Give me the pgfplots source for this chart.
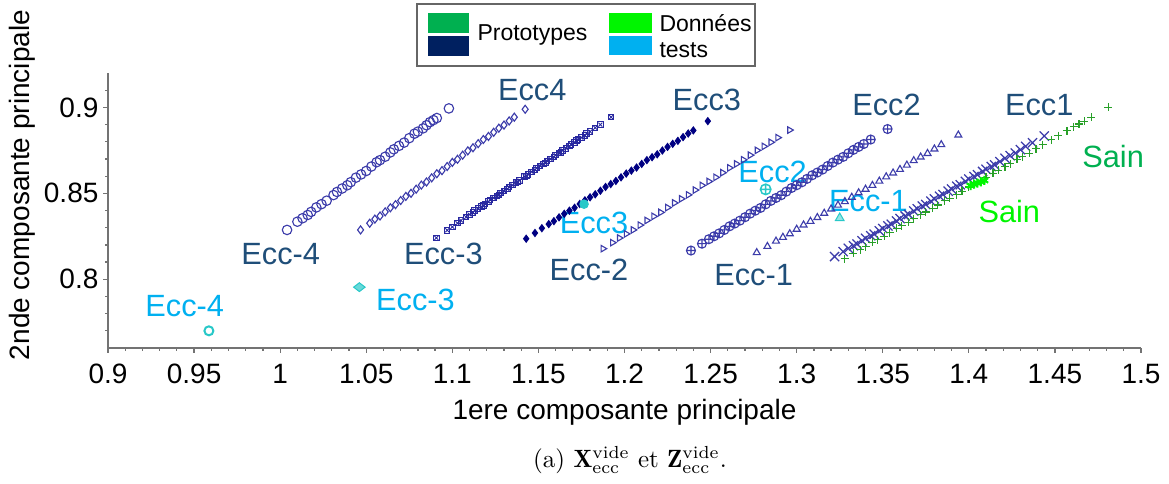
\documentclass[border=0pt]{standalone}
\usepackage{pgfplots}
\pgfplotsset{compat=1.18}
\usepackage{pgfplotstable}
\usepackage{fontspec}
\setsansfont{Liberation Sans}
\renewcommand{\familydefault}{\sfdefault}
\definecolor{darklab}{RGB}{31,78,121}
\definecolor{cyanlab}{RGB}{0,176,240}
\definecolor{greenlab}{RGB}{0,176,80}
\definecolor{limelab}{RGB}{0,245,0}
\definecolor{navyleg}{RGB}{0,32,96}
\definecolor{ser}{RGB}{60,60,170}
\definecolor{navy}{RGB}{0,0,130}
\definecolor{dser}{RGB}{40,40,160}
\definecolor{plusgreen}{RGB}{40,160,40}
\definecolor{testcyan}{RGB}{40,200,200}

\pgfplotstableread{
x y
1.0907 0.8241
1.097 0.8285
1.100 0.8305
1.103 0.8326
1.105 0.8342
1.108 0.8361
1.110 0.8377
1.112 0.8388
1.115 0.8411
1.117 0.8423
1.119 0.8439
1.121 0.8451
1.124 0.8473
1.126 0.8485
1.128 0.8501
1.130 0.8513
1.133 0.8536
1.135 0.8547
1.137 0.8563
1.139 0.8575
1.142 0.8598
1.144 0.8610
1.146 0.8625
1.148 0.8637
1.151 0.8660
1.153 0.8672
1.155 0.8688
1.157 0.8700
1.160 0.8722
1.162 0.8734
1.164 0.8750
1.166 0.8762
1.169 0.8785
1.171 0.8796
1.173 0.8812
1.175 0.8824
1.178 0.8847
1.180 0.8859
1.183 0.8881
1.186 0.8900
1.1922 0.8943
1.113 0.8400
1.118 0.8428
1.122 0.8462
1.127 0.8490
1.132 0.8525
1.138 0.8566
1.143 0.8602
1.149 0.8647
1.154 0.8676
1.159 0.8712
1.163 0.8738
1.168 0.8774
1.172 0.8806
1.177 0.8836
}\tabcross

\begin{document}
\begin{tikzpicture}
\useasboundingbox (-43.2pt,-54pt) rectangle (424.4pt,139.2pt);
\begin{axis}[name=ax, at={(0,0)}, anchor=south west,
  scale only axis, width=413.2pt, height=110pt,
  xmin=0.9, xmax=1.5, ymin=0.76, ymax=0.92,
  axis x line*=bottom, axis y line*=left,
  axis line style={-, black!55, line width=0.6pt},
  xtick={0.9,0.95,1,1.05,1.1,1.15,1.2,1.25,1.3,1.35,1.4,1.45,1.5},
  xticklabels={0.9,0.95,1,1.05,1.1,1.15,1.2,1.25,1.3,1.35,1.4,1.45,1.5},
  ytick={0.8,0.85,0.9},
  yticklabels={0.8,0.85,0.9},
  minor x tick num=4,
  minor ytick={0.77,0.78,0.79,0.81,0.82,0.83,0.84,0.86,0.87,0.88,0.89,0.91},
  tick align=outside,
  major tick length=1.8pt, minor tick length=1pt,
  tick style={black!55, line width=0.5pt},
  /pgf/number format/assume math mode=true,
  ticklabel style={font=\fontsize{11.2}{13}\selectfont},
  xticklabel style={yshift=-1pt},
  yticklabel style={xshift=1.5pt},
  xlabel={1ere composante principale},
  ylabel={2nde composante principale},
  label style={font=\fontsize{11.2}{13}\selectfont},
  xlabel style={at={(axis description cs:0.5,0)}, anchor=center, yshift=-25.6pt},
  ylabel style={at={(axis description cs:-0.0833,0.593)}, anchor=center},
  clip=false,
]
% Ecc4 circles
\addplot[only marks, mark=o, mark size=1.9pt, mark options={ser, line width=0.45pt}] table {
x y
1.004 0.8287
1.010 0.8335
1.013 0.8355
1.016 0.8374
1.018 0.8392
1.021 0.8418
1.024 0.8437
1.027 0.8457
1.031 0.8490
1.033 0.8508
1.036 0.8528
1.039 0.8547
1.041 0.8565
1.044 0.8591
1.047 0.8610
1.050 0.8630
1.053 0.8656
1.056 0.8681
1.058 0.8693
1.061 0.8713
1.064 0.8738
1.066 0.8756
1.069 0.8776
1.072 0.8795
1.075 0.8821
1.078 0.8847
1.080 0.8859
1.083 0.8878
1.085 0.8896
1.087 0.8914
1.089 0.8926
1.091 0.8938
1.098 0.8994
};
% Ecc3 open diamonds
\addplot[only marks, mark=diamond, mark size=1.6pt, mark options={ser, line width=0.45pt}] table {
x y
1.0467 0.8287
1.052 0.8326
1.055 0.8350
1.058 0.8368
1.061 0.8392
1.064 0.8416
1.067 0.8434
1.070 0.8458
1.073 0.8482
1.076 0.8500
1.079 0.8524
1.082 0.8548
1.085 0.8566
1.088 0.8590
1.091 0.8614
1.094 0.8632
1.097 0.8656
1.100 0.8680
1.103 0.8698
1.106 0.8722
1.109 0.8747
1.112 0.8765
1.115 0.8789
1.118 0.8813
1.121 0.8831
1.124 0.8855
1.127 0.8879
1.130 0.8897
1.133 0.8921
1.136 0.8943
1.1423 0.8989
};
% Ecc2 crossed squares
\addplot[only marks, mark=square, mark size=1.1pt, mark options={dser, line width=0.4pt}] table {\tabcross};
\addplot[only marks, mark=x, mark size=1.1pt, mark options={dser, line width=0.35pt}] table {\tabcross};
% Ecc1 filled diamonds
\addplot[only marks, mark=diamond*, mark size=1.4pt, mark options={navy, fill=navy}] table {
x y
1.1429 0.8236
1.148 0.8269
1.152 0.8297
1.156 0.8321
1.159 0.8338
1.162 0.8360
1.165 0.8381
1.168 0.8399
1.171 0.8416
1.174 0.8438
1.177 0.8459
1.180 0.8477
1.183 0.8494
1.186 0.8515
1.189 0.8537
1.192 0.8554
1.195 0.8572
1.198 0.8593
1.201 0.8615
1.204 0.8632
1.207 0.8650
1.210 0.8671
1.213 0.8693
1.216 0.8710
1.219 0.8727
1.222 0.8749
1.225 0.8770
1.228 0.8788
1.231 0.8805
1.234 0.8827
1.237 0.8848
1.240 0.8866
1.2484 0.8920
};
% Ecc-1 triangles right
\addplot[only marks, mark=triangle, mark size=1.5pt, mark options={ser, line width=0.45pt, rotate=-90}] table {
x y
1.1875 0.8178
1.193 0.8213
1.197 0.8240
1.201 0.8264
1.205 0.8287
1.209 0.8315
1.213 0.8342
1.217 0.8366
1.221 0.8389
1.225 0.8417
1.229 0.8444
1.233 0.8468
1.237 0.8491
1.241 0.8519
1.245 0.8546
1.249 0.8569
1.253 0.8593
1.257 0.8620
1.261 0.8648
1.265 0.8671
1.269 0.8695
1.273 0.8722
1.277 0.8750
1.281 0.8773
1.285 0.8797
1.289 0.8824
1.2959 0.8868
};
% Ecc-2 oplus
\addplot[only marks, mark=oplus, mark size=1.8pt, mark options={ser, line width=0.45pt}] table {
x y
1.2386 0.8167
1.245 0.8207
1.249 0.8233
1.252 0.8250
1.255 0.8267
1.258 0.8287
1.261 0.8308
1.264 0.8324
1.267 0.8341
1.270 0.8361
1.273 0.8382
1.276 0.8399
1.279 0.8415
1.282 0.8436
1.285 0.8456
1.288 0.8473
1.291 0.8489
1.294 0.8510
1.297 0.8531
1.300 0.8547
1.303 0.8564
1.306 0.8584
1.309 0.8605
1.312 0.8621
1.315 0.8638
1.318 0.8659
1.321 0.8679
1.324 0.8696
1.327 0.8712
1.330 0.8733
1.333 0.8753
1.336 0.8770
1.339 0.8787
1.343 0.8813
1.3528 0.8874
};
% Ecc-3 triangles up
\addplot[only marks, mark=triangle, mark size=1.6pt, mark options={ser, line width=0.45pt}] table {
x y
1.2768 0.8155
1.283 0.8191
1.288 0.8222
1.292 0.8244
1.296 0.8265
1.300 0.8291
1.304 0.8316
1.308 0.8337
1.312 0.8359
1.316 0.8384
1.320 0.8409
1.324 0.8431
1.328 0.8452
1.332 0.8477
1.336 0.8503
1.340 0.8524
1.344 0.8546
1.348 0.8571
1.352 0.8596
1.356 0.8618
1.360 0.8639
1.364 0.8664
1.368 0.8690
1.372 0.8711
1.376 0.8732
1.380 0.8758
1.384 0.8783
1.3939 0.8839
};
% Ecc-4 x marks
\addplot[only marks, mark=x, mark size=2.6pt, mark options={ser, line width=0.5pt}] table {
x y
1.322 0.8132
1.327 0.8161
1.330 0.8180
1.333 0.8195
1.335 0.8205
1.338 0.8224
1.340 0.8238
1.343 0.8253
1.345 0.8262
1.348 0.8282
1.350 0.8295
1.353 0.8310
1.355 0.8320
1.358 0.8339
1.360 0.8353
1.363 0.8368
1.365 0.8377
1.368 0.8397
1.370 0.8410
1.373 0.8426
1.375 0.8435
1.378 0.8454
1.380 0.8468
1.383 0.8483
1.385 0.8493
1.388 0.8512
1.390 0.8525
1.393 0.8541
1.395 0.8550
1.398 0.8569
1.400 0.8583
1.403 0.8598
1.405 0.8608
1.408 0.8627
1.410 0.8640
1.413 0.8656
1.415 0.8665
1.418 0.8684
1.421 0.8704
1.424 0.8719
1.427 0.8734
1.430 0.8754
1.433 0.8773
1.437 0.8794
1.4438 0.8833
};
% Sain plus
\addplot[only marks, mark=+, mark size=1.6pt, mark options={plusgreen, line width=0.45pt}] table {
x y
1.3278 0.8120
1.333 0.8150
1.337 0.8171
1.340 0.8190
1.344 0.8215
1.347 0.8230
1.351 0.8251
1.354 0.8271
1.358 0.8296
1.361 0.8311
1.365 0.8332
1.368 0.8351
1.372 0.8376
1.375 0.8391
1.379 0.8412
1.382 0.8432
1.386 0.8457
1.389 0.8472
1.393 0.8493
1.396 0.8512
1.400 0.8537
1.403 0.8552
1.407 0.8573
1.410 0.8593
1.414 0.8617
1.417 0.8633
1.421 0.8654
1.424 0.8673
1.428 0.8698
1.431 0.8713
1.435 0.8734
1.439 0.8759
1.443 0.8784
1.448 0.8811
1.452 0.8836
1.457 0.8863
1.461 0.8888
1.464 0.8903
1.467 0.8918
1.471 0.8943
1.4809 0.9000
};
% test points
\addplot[only marks, mark=o, mark size=1.8pt, mark options={testcyan, line width=0.8pt}] coordinates {(0.9586,0.7700)};
\addplot[only marks, mark=diamond*, mark size=2.2pt, mark options={testcyan, fill=testcyan!70, xscale=1.4, yscale=0.8}] coordinates {(1.046,0.7954)};
\addplot[only marks, mark=*, mark size=1.7pt, mark options={testcyan, fill=testcyan}] coordinates {(1.1765,0.8437)};
\addplot[only marks, mark=oplus, mark size=2.1pt, mark options={testcyan, line width=0.6pt, fill=testcyan!40}] coordinates {(1.282,0.8523)};
\addplot[only marks, mark=triangle*, mark size=2pt, mark options={testcyan, fill=testcyan!50}] coordinates {(1.325,0.8356)};
\addplot[only marks, mark=asterisk, mark size=1.8pt, mark options={limelab, line width=0.8pt}] coordinates {(1.401,0.8545) (1.403,0.8553) (1.405,0.8560) (1.407,0.8567) (1.409,0.8575)};
% labels
\begin{scope}[every node/.style={font=\fontsize{12.3}{14}\selectfont, inner sep=0pt}]
\node[text=darklab] at (axis cs:1.1464,0.9103) {Ecc4};
\node[text=darklab] at (axis cs:1.2478,0.9046) {Ecc3};
\node[text=darklab] at (axis cs:1.3522,0.9017) {Ecc2};
\node[text=darklab] at (axis cs:1.4409,0.9011) {Ecc1};
\node[text=greenlab] at (axis cs:1.4838,0.8713) {Sain};
\node[text=darklab] at (axis cs:1.0003,0.8149) {Ecc-4};
\node[text=darklab] at (axis cs:1.0948,0.8149) {Ecc-3};
\node[text=darklab] at (axis cs:1.1794,0.8052) {Ecc-2};
\node[text=darklab] at (axis cs:1.2750,0.8023) {Ecc-1};
\node[text=cyanlab] at (axis cs:1.2860,0.8626) {Ecc2};
\node[text=cyanlab] at (axis cs:1.1823,0.8328) {Ecc3};
\node[text=cyanlab] at (axis cs:1.3417,0.8454) {Ecc-1};
\node[text=limelab] at (axis cs:1.4235,0.8397) {Sain};
\node[text=cyanlab] at (axis cs:0.9446,0.7845) {Ecc-4};
\node[text=cyanlab] at (axis cs:1.0786,0.7880) {Ecc-3};
\end{scope}
\end{axis}
% legend
\draw[black!60, line width=0.6pt, fill=white] (123.6pt,112.8pt) rectangle (258.8pt,137.6pt);
\fill[greenlab] (128pt,126.2pt) rectangle (144.4pt,134pt);
\fill[navyleg] (128pt,117pt) rectangle (144.4pt,124.8pt);
\fill[limelab] (200.4pt,126.2pt) rectangle (217.6pt,134pt);
\fill[cyanlab] (200.4pt,117.2pt) rectangle (217.6pt,125pt);
\node[anchor=west, inner sep=0pt, font=\fontsize{9.2}{11}\selectfont] at (147.6pt,125.2pt) {Prototypes};
\node[anchor=west, inner sep=0pt, font=\fontsize{9.2}{11}\selectfont] at (220.4pt,130pt) {Données};
\node[anchor=west, inner sep=0pt, font=\fontsize{9.2}{11}\selectfont] at (220.4pt,119.2pt) {tests};
% caption
\node[font=\rmfamily\fontsize{10}{12}\selectfont] at (208.8pt,-44.8pt) {(a) $\mathbf{X}_{\mathrm{ecc}}^{\mathrm{vide}}$ et $\mathbf{Z}_{\mathrm{ecc}}^{\mathrm{vide}}$.};
\end{tikzpicture}
\end{document}
